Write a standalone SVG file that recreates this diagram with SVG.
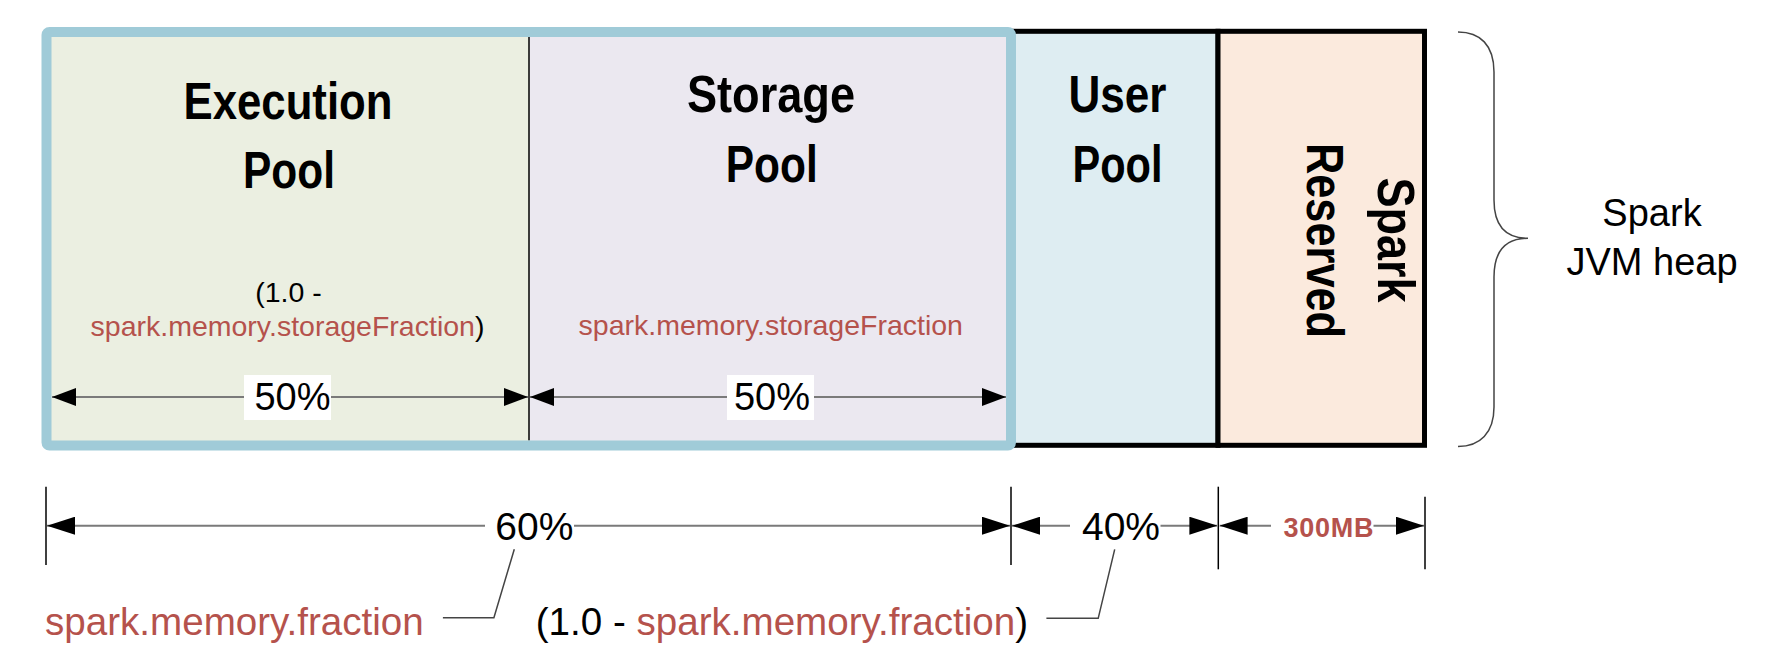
<svg xmlns="http://www.w3.org/2000/svg" width="1768" height="666" viewBox="0 0 1768 666">
<style>
.t{font-family:"Liberation Sans",Arial,sans-serif}
.title{font-family:"Liberation Sans",Arial,sans-serif;font-weight:bold;font-size:52px;fill:#000;text-anchor:middle}
.small{font-family:"Liberation Sans",Arial,sans-serif;font-size:28.5px;fill:#000;text-anchor:middle}
.big{font-family:"Liberation Sans",Arial,sans-serif;font-size:38px;fill:#000}
.red{fill:#b5524c}
.dim{stroke:#7a7a7a;stroke-width:2;fill:none}
.tick{stroke:#000;stroke-width:1.5}
.lead{stroke:#444;stroke-width:1.5;fill:none}
</style>
<defs>
<marker id="ah" viewBox="0 0 24 18" refX="24" refY="9" markerWidth="24" markerHeight="18" markerUnits="userSpaceOnUse" orient="auto-start-reverse"><path d="M0,0 L24,9 L0,18 z" fill="#000"/></marker>
<marker id="ah2" viewBox="0 0 28 18" refX="28" refY="9" markerWidth="28" markerHeight="18" markerUnits="userSpaceOnUse" orient="auto-start-reverse"><path d="M0,0 L28,9 L0,18 z" fill="#000"/></marker>
</defs>
<rect width="1768" height="666" fill="#fff"/>

<g id="user-pool">
<rect x="1011" y="31.3" width="207" height="414" fill="#deedf2" stroke="#000" stroke-width="5"/>
<text class="title" x="1117.5" y="111.7" textLength="98" lengthAdjust="spacingAndGlyphs">User</text>
<text class="title" x="1117.5" y="181.7" textLength="90" lengthAdjust="spacingAndGlyphs">Pool</text>
</g>

<g id="spark-reserved">
<rect x="1218" y="31.3" width="206.5" height="414" fill="#fbeadd" stroke="#000" stroke-width="5"/>
<g transform="translate(1377.5,240) rotate(90)">
<text class="t" x="0" y="0" font-size="52" font-weight="bold" text-anchor="middle" textLength="125" lengthAdjust="spacingAndGlyphs">Spark</text>
</g>
<g transform="translate(1306.5,240.5) rotate(90)">
<text class="t" x="0" y="0" font-size="52" font-weight="bold" text-anchor="middle" textLength="195" lengthAdjust="spacingAndGlyphs">Reserved</text>
</g>
</g>

<g id="unified-pool">
<rect x="46.5" y="32" width="964.5" height="413.5" rx="3" fill="#ebe8f0" stroke="none"/>
<rect x="46.5" y="32" width="482.5" height="413.5" fill="#ebefe1"/>
<line x1="529" y1="37" x2="529" y2="440.5" stroke="#000" stroke-width="1.5"/>
<rect x="46.5" y="32" width="964.5" height="413.5" rx="3" fill="none" stroke="#a0cbd8" stroke-width="10"/>
</g>

<g id="execution-pool">
<text class="title" x="288" y="119.3" textLength="209" lengthAdjust="spacingAndGlyphs">Execution</text>
<text class="title" x="289" y="188.3" textLength="92" lengthAdjust="spacingAndGlyphs">Pool</text>
<text class="small" x="288.5" y="301.7">(1.0 -</text>
<text class="small" x="287.5" y="335.5"><tspan class="red">spark.memory.storageFraction</tspan>)</text>
</g>

<g id="storage-pool">
<text class="title" x="771" y="111.7" textLength="168" lengthAdjust="spacingAndGlyphs">Storage</text>
<text class="title" x="771.7" y="181.7" textLength="92" lengthAdjust="spacingAndGlyphs">Pool</text>
<text class="small red" x="770.8" y="334.5">spark.memory.storageFraction</text>
</g>

<g id="heap-label">
<text class="big" x="1652" y="226" text-anchor="middle">Spark</text>
<text class="big" x="1652" y="275" text-anchor="middle">JVM heap</text>
</g>

<g id="connectors">
<line class="dim" x1="52" y1="397" x2="528" y2="397" marker-start="url(#ah)" marker-end="url(#ah)"/>
<line class="dim" x1="530" y1="397" x2="1006" y2="397" marker-start="url(#ah)" marker-end="url(#ah)"/>
<rect x="244" y="375" width="87" height="45" fill="#fff"/>
<text class="big" x="292.5" y="410" text-anchor="middle">50%</text>
<rect x="727" y="375" width="87" height="45" fill="#fff"/>
<text class="big" x="772" y="410" text-anchor="middle">50%</text>

<line class="tick" x1="46" y1="486.7" x2="46" y2="565"/>
<line class="tick" x1="1011" y1="486.7" x2="1011" y2="565"/>
<line class="tick" x1="1218.3" y1="486.7" x2="1218.3" y2="569.3"/>
<line class="tick" x1="1425" y1="496.7" x2="1425" y2="569.3"/>

<line class="dim" x1="47" y1="525.7" x2="1010" y2="525.7" marker-start="url(#ah2)" marker-end="url(#ah2)"/>
<line class="dim" x1="1012" y1="525.7" x2="1217.4" y2="525.7" marker-start="url(#ah2)" marker-end="url(#ah2)"/>
<line class="dim" x1="1219.6" y1="525.7" x2="1424" y2="525.7" marker-start="url(#ah2)" marker-end="url(#ah2)"/>
<rect x="485" y="505" width="89" height="42" fill="#fff"/>
<text class="big" x="534.4" y="540" text-anchor="middle" style="font-size:39px">60%</text>
<rect x="1070" y="505" width="90.5" height="42" fill="#fff"/>
<text class="big" x="1121" y="540" text-anchor="middle" style="font-size:39px">40%</text>
<rect x="1271" y="510" width="102.5" height="34" fill="#fff"/>
<text class="t red" x="1328.5" y="537.3" font-size="27" font-weight="bold" text-anchor="middle" textLength="90" lengthAdjust="spacing">300MB</text>

<polyline class="lead" points="514.3,549.3 493.9,617.7 442.9,617.7"/>
<polyline class="lead" points="1114.7,549.3 1098.2,618.3 1046.4,618.3"/>

<path class="lead" d="M1458,32 C1480,32 1494,45 1494,72 L1494,200 C1494,226 1506,238.3 1528,238.3 C1506,238.3 1494,251 1494,277 L1494,407 C1494,433 1480,446.5 1458,446.5"/>
</g>

<g id="bottom-labels">
<text class="big red" x="45" y="635" style="font-size:38.6px">spark.memory.fraction</text>
<text class="big" x="535.7" y="635" style="font-size:38.6px">(1.0 - <tspan class="red">spark.memory.fraction</tspan>)</text>
</g>
</svg>
